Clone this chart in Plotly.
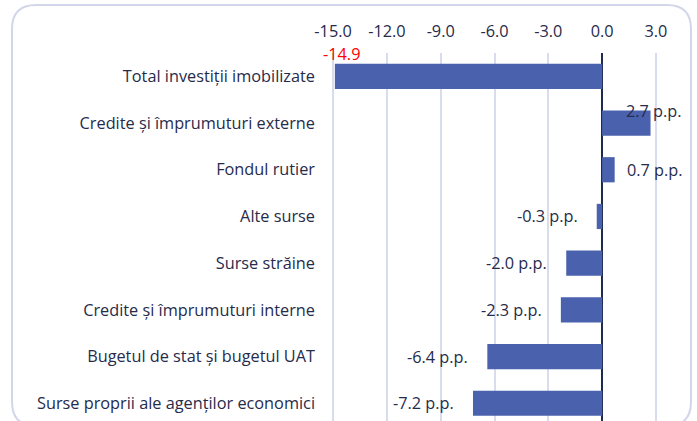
import plotly.graph_objects as go

categories = [
    "Total investiții imobilizate",
    "Credite și împrumuturi externe",
    "Fondul rutier",
    "Alte surse",
    "Surse străine",
    "Credite și împrumuturi interne",
    "Bugetul de stat și bugetul UAT",
    "Surse proprii ale agenților economici",
]
values = [-14.9, 2.7, 0.7, -0.3, -2.0, -2.3, -6.4, -7.2]
value_labels = ["-14.9", "2.7 p.p.", "0.7 p.p.", "-0.3 p.p.", "-2.0 p.p.",
                "-2.3 p.p.", "-6.4 p.p.", "-7.2 p.p."]
tick_values = [-15, -12, -9, -6, -3, 0, 3]
tick_labels = ["-15.0", "-12.0", "-9.0", "-6.0", "-3.0", "0.0", "3.0"]

W, H = 697, 421
ML, MR, MT, MB = 332, 40, 53, 0
FONT = "Open Sans"
NAVY = "#262B4B"
FS = 16.3


def px_to_paper(px, py):
    return (px - ML) / (W - ML - MR), (H - MB - py) / (H - MT - MB)


fig = go.Figure()
fig.add_trace(go.Bar(
    x=values, y=categories, orientation="h", width=0.54,
    marker=dict(color="#4A62AE", line=dict(width=0)),
    hoverinfo="skip",
))

# value labels
for i, (v, lab) in enumerate(zip(values, value_labels)):
    if i == 0:
        fig.add_annotation(x=v, y=categories[i], text=lab, showarrow=False,
                           xanchor="left", yshift=22, xshift=-14,
                           font=dict(color="#FF0000", size=FS, family=FONT))
    elif i == 1:
        fig.add_annotation(x=v, y=categories[i], text=lab, showarrow=False,
                           xanchor="center", yshift=12, xshift=3,
                           font=dict(color=NAVY, size=FS, family=FONT))
    elif v >= 0:
        fig.add_annotation(x=v, y=categories[i], text=lab, showarrow=False,
                           xanchor="left", xshift=10,
                           font=dict(color=NAVY, size=FS, family=FONT))
    else:
        fig.add_annotation(x=v, y=categories[i], text=lab, showarrow=False,
                           xanchor="right", xshift=-17,
                           font=dict(color=NAVY, size=FS, family=FONT))

# rounded frame around the chart
x0, y0 = px_to_paper(12, 5)
x1, y1 = px_to_paper(691, 426)
rx = 24 / (W - ML - MR)
ry = 24 / (H - MT - MB)
path = (f"M {x0 + rx},{y0} L {x1 - rx},{y0} Q {x1},{y0} {x1},{y0 - ry} "
        f"L {x1},{y1 + ry} Q {x1},{y1} {x1 - rx},{y1} "
        f"L {x0 + rx},{y1} Q {x0},{y1} {x0},{y1 + ry} "
        f"L {x0},{y0 - ry} Q {x0},{y0} {x0 + rx},{y0} Z")
fig.add_shape(type="path", path=path, xref="paper", yref="paper",
              line=dict(color="#D3D6EA", width=2), layer="below")

fig.update_layout(
    width=W, height=H,
    margin=dict(l=ML, r=MR, t=MT, b=MB, autoexpand=False),
    paper_bgcolor="white", plot_bgcolor="white",
    showlegend=False,
    font=dict(family=FONT, color=NAVY, size=FS),
    xaxis=dict(
        range=[-15.06, 3.06], side="top", automargin=False,
        tickvals=tick_values, ticktext=tick_labels,
        showgrid=True, gridcolor="#D9DBEF", gridwidth=2,
        zeroline=True, zerolinecolor="#1F2A4F", zerolinewidth=2,
        showline=False, ticks="", ticklabelstandoff=12,
        tickfont=dict(size=FS, color=NAVY),
    ),
    yaxis=dict(
        type="category", categoryorder="array", categoryarray=categories,
        range=[7.38, -0.5], automargin=False,
        showgrid=False, zeroline=False, showline=False, ticks="",
        ticklabelstandoff=16,
        tickfont=dict(size=FS, color=NAVY),
    ),
)

# drop the default page margin so the figure starts at the window corner
fig.write_html("out.html", config={"displayModeBar": False},
               post_script="document.body.style.margin='0';document.body.style.overflow='hidden';")
